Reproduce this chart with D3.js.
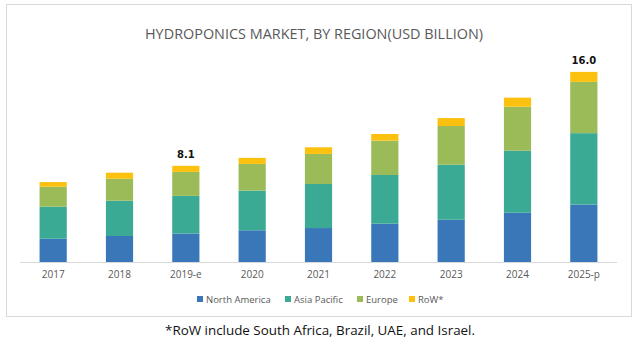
<!DOCTYPE html>
<html>
<head>
<meta charset="utf-8">
<script src="https://cdn.jsdelivr.net/npm/d3@7"></script>
<style>
  body { margin: 0; background: #fff; }
  svg { display: block; }
</style>
</head>
<body>
<script>
const width = 639,
  height = 351;

// data (USD billion)
const years = ["2017", "2018", "2019-e", "2020", "2021", "2022", "2023", "2024", "2025-p"];
const northAmerica = [1.96, 2.19, 2.39, 2.67, 2.86, 3.23, 3.56, 4.15, 4.83];
const asiaPacific = [2.70, 2.97, 3.18, 3.34, 3.71, 4.10, 4.63, 5.22, 6.02];
const europe = [1.68, 1.85, 2.02, 2.25, 2.53, 2.89, 3.26, 3.71, 4.32];
const row = [0.39, 0.51, 0.51, 0.51, 0.56, 0.56, 0.67, 0.76, 0.84];
const seriesNames = ["North America", "Asia Pacific", "Europe", "RoW*"];
// only two totals are labelled in the original
const totalLabels = { "2019-e": "8.1", "2025-p": "16.0" };

const colors = ["#3a77b9", "#3aaa95", "#9bba58", "#fcc10e"];

// build rows for d3.stack
const table = years.map((y, i) => ({
  year: y,
  "North America": northAmerica[i],
  "Asia Pacific": asiaPacific[i],
  "Europe": europe[i],
  "RoW*": row[i]
}));

const stacked = d3.stack().keys(seriesNames)(table);

const svg = d3
  .select("body")
  .append("svg")
  .attr("width", width)
  .attr("height", height);

// outer frame of the chart area
svg
  .append("rect")
  .attr("x", 6.5)
  .attr("y", 4.5)
  .attr("width", 625)
  .attr("height", 312)
  .attr("fill", "#fff")
  .attr("stroke", "#d9d9d9");

const x = d3
  .scaleBand()
  .domain(years)
  .range([20, 617])
  .paddingInner(0.59)
  .paddingOuter(0.295);

// 16.0 -> 190px tall
const y = d3
  .scaleLinear()
  .domain([0, 16])
  .range([262, 72]);

svg
  .append("text")
  .attr("x", 314)
  .attr("y", 39)
  .attr("text-anchor", "middle")
  .attr("font-family", "'Open Sans', sans-serif")
  .attr("font-size", 14.5)
  .attr("fill", "#595959")
  .attr("textLength", 338)
  .attr("lengthAdjust", "spacingAndGlyphs")
  .text("HYDROPONICS MARKET, BY REGION(USD BILLION)");

// stacked bars
svg
  .append("g")
  .selectAll("g")
  .data(stacked)
  .join("g")
  .attr("fill", (d, i) => colors[i])
  .selectAll("rect")
  .data((d) => d)
  .join("rect")
  .attr("x", (d) => x(d.data.year))
  .attr("width", x.bandwidth())
  .attr("y", (d) => y(d[1]))
  .attr("height", (d) => y(d[0]) - y(d[1]));

// baseline axis
const xAxis = svg
  .append("g")
  .attr("transform", "translate(0,262)")
  .call(d3.axisBottom(x).tickSize(0).tickPadding(9));
xAxis.select(".domain").attr("stroke", "#d9d9d9").attr("d", "M20,0.5H617");
xAxis
  .selectAll("text")
  .attr("font-family", "'Open Sans', sans-serif")
  .attr("font-size", 10)
  .attr("fill", "#595959");

// total labels
const last = stacked[stacked.length - 1];
svg
  .append("g")
  .selectAll("text")
  .data(last.filter((d) => totalLabels[d.data.year]))
  .join("text")
  .attr("x", (d) => x(d.data.year) + x.bandwidth() / 2)
  .attr("y", (d) => y(d[1]) - 8)
  .attr("text-anchor", "middle")
  .attr("font-family", "'DejaVu Sans', sans-serif")
  .attr("font-weight", "bold")
  .attr("font-size", 10)
  .attr("fill", "#111")
  .text((d) => totalLabels[d.data.year]);

// legend
const legendX = [197, 285, 357, 409];
const legend = svg
  .append("g")
  .selectAll("g")
  .data(seriesNames)
  .join("g")
  .attr("transform", (d, i) => `translate(${legendX[i]},299)`);
legend
  .append("rect")
  .attr("x", 0)
  .attr("y", -3)
  .attr("width", 6)
  .attr("height", 6)
  .attr("fill", (d, i) => colors[i]);
legend
  .append("text")
  .attr("x", 9)
  .attr("y", 3.5)
  .attr("font-family", "'Open Sans', sans-serif")
  .attr("font-size", 9.5)
  .attr("fill", "#595959")
  .text((d) => d);

// footnote
svg
  .append("text")
  .attr("x", 320)
  .attr("y", 335)
  .attr("text-anchor", "middle")
  .attr("font-family", "'Open Sans', sans-serif")
  .attr("font-size", 13)
  .attr("fill", "#111")
  .attr("textLength", 310)
  .attr("lengthAdjust", "spacingAndGlyphs")
  .text("*RoW include South Africa, Brazil, UAE, and Israel.");
</script>
</body>
</html>
